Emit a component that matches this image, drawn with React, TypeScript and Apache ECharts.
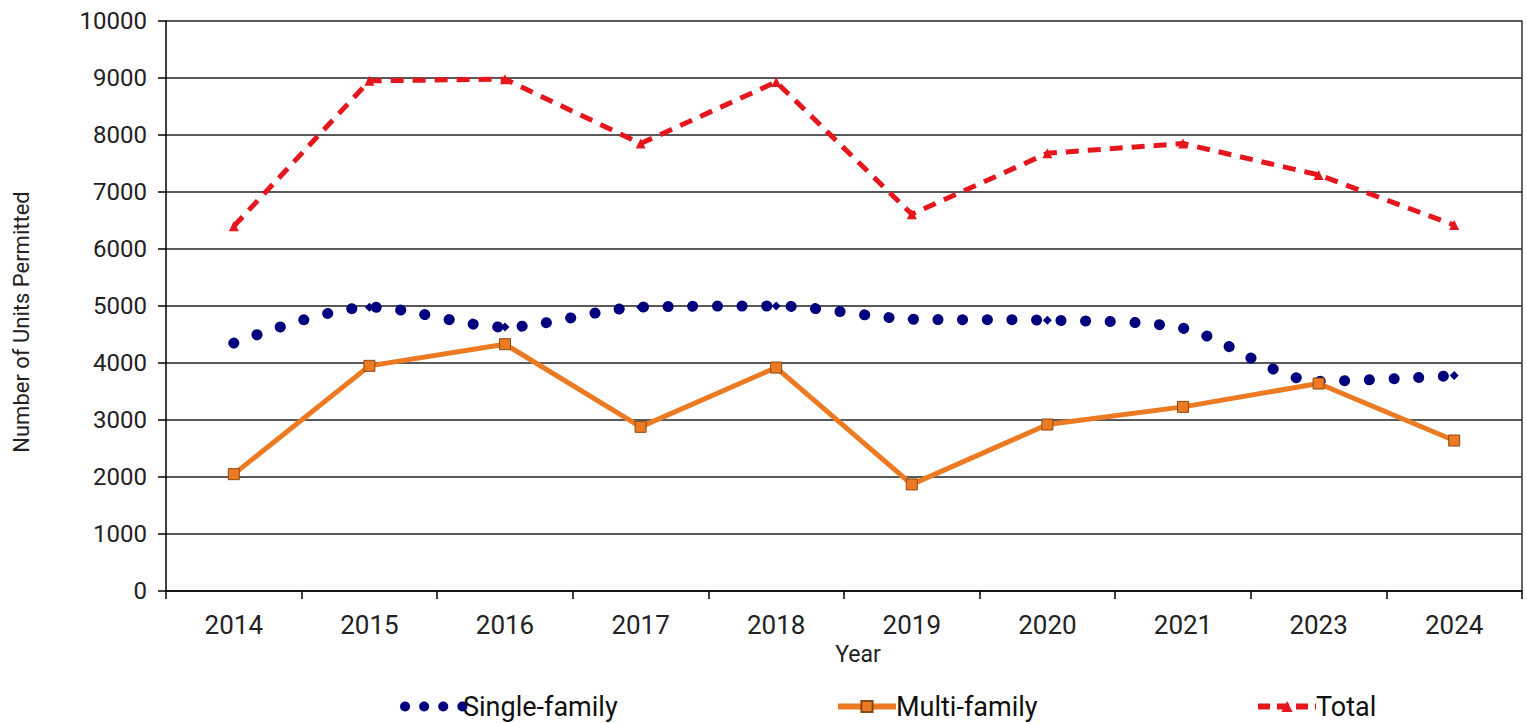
import React, { useEffect, useRef } from "react";
import * as echarts from "echarts";

const years = ["2014", "2015", "2016", "2017", "2018", "2019", "2020", "2021", "2023", "2024"];
const singleFamily = [4350, 4980, 4630, 4980, 5000, 4770, 4750, 4610, 3680, 3780];
const multiFamily = [2050, 3950, 4330, 2880, 3920, 1870, 2920, 3230, 3640, 2640];
const total = [6400, 8950, 8980, 7850, 8930, 6610, 7680, 7850, 7300, 6420];

const NAVY = "#00007f";
const ORANGE = "#ec7a23";
const RED = "#e5161d";
const TXT = "#222222";
const FONT = "Roboto";

export default function App() {
  const ref = useRef<HTMLDivElement>(null);
  useEffect(() => {
    if (!ref.current) return;
    const chart = echarts.init(ref.current, undefined, { renderer: "svg" });
    const legendBase = {
      top: 693,
      itemWidth: 58,
      itemHeight: 14,
      itemGap: 4,
      padding: 0,
      textStyle: { fontFamily: FONT, fontSize: 27, color: "#111", padding: [0, 0, 0, -5] },
    };
    chart.setOption({
      animation: false,
      backgroundColor: "#ffffff",
      grid: { left: 166, right: 5, top: 21, bottom: 132, containLabel: false },
      legend: [
        {
          ...legendBase,
          left: 400,
          data: ["Single-family"],
          itemStyle: { opacity: 0 },
          lineStyle: { width: 10, type: [0.1, 19], cap: "round" },
        },
        {
          ...legendBase,
          left: 835,
          data: ["Multi-family"],
          lineStyle: { width: 6 },
        },
        {
          ...legendBase,
          left: 1255,
          data: ["Total"],
          lineStyle: { width: 6, type: [12, 7] },
        },
      ],
      graphic: [
        {
          type: "text",
          x: 21,
          y: 322,
          rotation: Math.PI / 2,
          style: {
            text: "Number of Units Permitted",
            fontFamily: FONT,
            fontSize: 22,
            fill: TXT,
            align: "center",
            verticalAlign: "middle",
          },
        },
      ],
      xAxis: {
        type: "category",
        data: years,
        boundaryGap: true,
        name: "Year",
        nameLocation: "middle",
        nameGap: 48,
        nameTextStyle: { fontFamily: FONT, fontSize: 23, color: TXT, padding: [0, 0, 0, 28] },
        axisLine: { show: true, lineStyle: { color: "#000", width: 1.5 } },
        axisTick: { show: true, length: 8, lineStyle: { color: "#000", width: 1.5 } },
        axisLabel: { fontFamily: FONT, fontSize: 26, color: TXT, margin: 21 },
        splitLine: { show: false },
      },
      yAxis: [
        {
          type: "value",
          min: 0,
          max: 10000,
          interval: 1000,
          axisLine: { show: true, lineStyle: { color: "#000", width: 1.5 } },
          axisTick: { show: true, length: 8, lineStyle: { color: "#000", width: 1.5 } },
          axisLabel: {
            fontFamily: FONT,
            fontSize: 24,
            color: TXT,
            margin: 19,
            formatter: (v: number) => String(v),
          },
          splitLine: { show: true, lineStyle: { color: "#222", width: 1.5 } },
        },
        {
          type: "value",
          position: "right",
          min: 0,
          max: 10000,
          interval: 1000,
          axisLine: { show: true, lineStyle: { color: "#333", width: 1.5 } },
          axisTick: { show: false },
          axisLabel: { show: false },
          splitLine: { show: false },
        },
      ],
      series: [
        {
          name: "Single-family",
          type: "line",
          data: singleFamily,
          smooth: 0.3,
          symbol: "diamond",
          symbolSize: 9,
          itemStyle: { color: NAVY },
          lineStyle: { color: NAVY, width: 11, type: [0.1, 24.5], cap: "round" },
          z: 3,
        },
        {
          name: "Multi-family",
          type: "line",
          data: multiFamily,
          symbol: "rect",
          symbolSize: 11,
          itemStyle: { color: ORANGE, borderColor: "#8a4a14", borderWidth: 1 },
          lineStyle: { color: ORANGE, width: 5 },
          z: 4,
        },
        {
          name: "Total",
          type: "line",
          data: total,
          symbol: "triangle",
          symbolSize: 10,
          itemStyle: { color: RED },
          lineStyle: { color: RED, width: 5, type: [13, 9] },
          z: 2,
        },
      ],
    });
    return () => chart.dispose();
  }, []);
  return (
    <div
      ref={ref}
      style={{ position: "fixed", left: 0, top: 0, width: 1527, height: 723, background: "#fff" }}
    />
  );
}
